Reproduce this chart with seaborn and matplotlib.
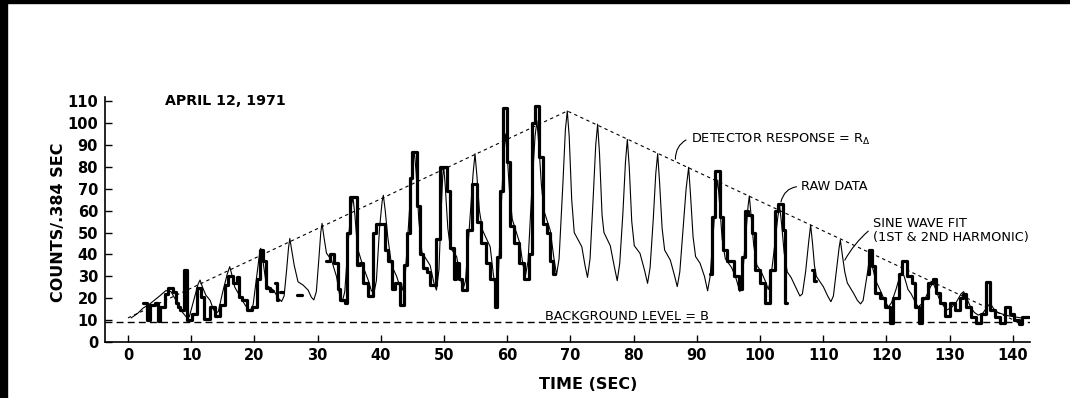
import numpy as np
import pandas as pd
import matplotlib
matplotlib.use("Agg")
import matplotlib.pyplot as plt
from matplotlib.patches import Rectangle
import seaborn as sns


# ---------------- data ----------------
background_level = 9

# detector response triangle (R_delta)
env_t = [0.0, 69.5, 140.5]
env_v = [11.0, 105.5, 9.5]

# sine wave fit (1st & 2nd harmonic), (time, counts) read point by point
fit_curve = [
    (0.5, 11), (1.5, 13), (2.4, 15.5), (3.5, 17.5), (5.0, 21), (6.0, 23.5), (6.8, 23),
    (7.6, 19), (8.5, 14), (9.2, 11.5), (9.7, 11.5), (10.5, 20), (11.1, 26.5), (11.4, 28.3),
    (11.8, 25), (12.3, 21.5), (13.0, 19), (13.5, 15), (13.9, 13), (14.3, 14), (15.0, 23),
    (15.7, 31), (16.1, 34.4), (16.5, 30), (16.9, 25), (17.7, 21), (18.5, 17), (19.0, 15),
    (19.4, 14.6), (19.8, 17), (20.4, 31), (20.8, 40), (21.0, 42.8), (21.3, 38), (21.9, 26),
    (23.0, 23.7), (23.8, 20), (24.3, 18.5), (24.7, 21), (25.1, 33), (25.4, 43), (25.6, 47.3),
    (25.9, 42), (26.3, 35), (26.9, 27.5), (27.7, 26), (28.5, 23.7), (29.0, 20.5), (29.4, 19.2),
    (29.8, 23), (30.2, 38), (30.5, 50), (30.7, 54.2), (31.0, 48), (31.4, 40.6), (32.2, 37.4),
    (33.0, 29.8), (33.5, 21), (33.9, 18.4), (34.3, 23), (34.9, 48), (35.4, 63), (35.6, 66),
    (35.9, 58), (36.3, 43), (37.2, 34.4), (38.0, 28.3), (38.5, 23.5), (38.9, 22.2), (39.3, 28),
    (39.8, 52), (40.2, 64), (40.4, 67), (40.7, 60), (41.1, 48), (41.7, 35), (42.5, 30),
    (43.0, 25.5), (43.4, 23.7), (43.9, 32), (44.6, 63), (45.1, 82), (45.3, 87), (45.6, 77),
    (46.0, 56), (46.5, 41), (47.8, 35), (48.4, 27), (48.8, 23.7), (49.2, 33), (49.5, 57),
    (49.8, 76), (49.95, 80), (50.2, 71), (50.6, 52), (51.0, 43), (52.0, 39), (52.6, 29),
    (53.0, 24), (53.4, 28), (54.0, 52), (54.6, 77), (54.9, 86), (55.2, 76), (55.6, 60),
    (56.1, 51), (57.3, 43.5), (57.8, 31), (58.2, 22.5), (58.6, 31), (59.1, 65), (59.5, 88),
    (59.7, 95), (60.0, 85), (60.4, 67), (60.8, 56), (62.0, 45), (62.5, 35), (62.9, 30.6),
    (63.3, 37), (63.9, 70), (64.4, 94), (64.7, 101), (65.0, 90), (65.4, 72), (65.8, 60),
    (66.8, 51), (67.4, 38), (67.8, 30.6), (68.2, 38), (68.8, 72), (69.2, 97), (69.5, 105.5),
    (69.8, 94), (70.2, 65), (70.6, 50), (71.8, 43.5), (72.3, 35), (72.7, 29.5), (73.1, 38),
    (73.6, 66), (74.0, 90), (74.3, 99.5), (74.6, 86), (75.0, 58), (75.3, 50), (76.3, 44),
    (76.9, 35), (77.4, 28), (77.8, 36), (78.3, 59), (78.7, 82), (79.0, 92.5), (79.3, 80),
    (79.7, 55), (80.1, 44), (81.0, 40.5), (81.7, 33), (82.2, 26.8), (82.6, 34), (83.1, 56),
    (83.5, 77), (83.8, 86), (84.1, 73), (84.5, 52), (84.9, 42), (85.8, 37.4), (86.4, 31),
    (86.9, 25.3), (87.3, 32), (87.8, 51), (88.3, 70), (88.7, 79.8), (89.0, 67), (89.4, 48),
    (89.8, 39), (90.5, 36), (91.2, 30), (91.7, 23.4), (92.1, 30), (92.6, 50), (93.0, 67),
    (93.3, 74), (93.6, 63), (94.0, 47), (94.5, 38), (95.5, 34), (96.2, 29), (96.8, 23),
    (97.2, 29), (97.7, 47), (98.1, 62), (98.3, 66.7), (98.6, 57), (99.0, 44), (99.5, 35),
    (100.2, 32), (100.8, 28), (101.3, 24), (101.7, 29), (102.3, 44), (102.8, 57), (103.1, 62),
    (103.4, 54), (103.8, 41), (104.3, 32), (104.9, 29.5), (105.8, 24), (106.3, 21), (106.7, 22),
    (107.2, 32), (107.7, 46), (108.0, 53.4), (108.3, 45), (108.6, 35), (108.9, 30), (110.0, 25.3),
    (110.7, 21), (111.2, 18.4), (111.6, 21), (112.1, 33), (112.5, 43), (112.7, 46.6), (113.0, 40),
    (113.4, 32), (113.8, 27), (114.8, 22.2), (115.4, 19), (115.9, 17.4), (116.3, 19), (116.9, 30),
    (117.3, 38), (117.5, 40), (117.8, 34), (118.3, 28), (119.0, 23.7), (119.7, 19), (120.3, 16),
    (120.8, 18), (121.5, 24), (122.1, 30), (122.5, 32.5), (122.9, 29), (123.4, 24), (123.9, 22),
    (124.5, 18.5), (125.0, 16), (125.6, 17.5), (126.3, 21), (127.0, 25.5), (127.4, 26.8),
    (127.8, 24), (128.3, 20), (128.9, 17), (129.5, 14.6), (130.2, 15.5), (131.0, 18), (131.8, 22),
    (132.2, 23), (132.6, 20.5), (133.3, 16), (133.9, 13.5), (134.5, 12.3), (135.2, 13),
    (135.8, 15.5), (136.4, 17.7), (137.0, 15), (137.6, 13.5), (138.3, 12.8), (139.2, 12),
    (140.2, 11.5), (141.3, 11), (142.7, 11),
]
fit_t = [p[0] for p in fit_curve]
fit_v = [p[1] for p in fit_curve]

# raw data (0.384 s counts), step edges and levels; last level repeated at the end edge
raw_a_t = [2.4, 3.0, 3.5, 4.3, 4.7, 5.1, 5.8, 6.4, 7.2, 7.6, 7.9, 8.2, 8.9, 9.4, 10.1,
           10.9, 11.6, 12.0, 12.9, 13.8, 14.5, 15.3, 15.9, 16.6, 17.2, 17.6, 18.0,
           18.8, 19.6, 20.4, 20.9, 21.4, 21.9, 22.5, 23.0]
raw_a_v = [18, 10, 17, 18, 9.5, 16, 22, 24.5, 23, 18, 16, 14.5, 33, 10, 12.8,
           24.5, 20.7, 10.6, 16, 12, 17, 26, 30, 27, 29.7, 20.7, 19,
           14.6, 16, 29, 42, 37, 24.5, 23.5, 23.5]

raw_b_t = [23.3, 23.5, 23.7]
raw_b_v = [27, 19, 19]

raw_c_t = [24.0, 24.6]
raw_c_v = [23, 23]

raw_d_t = [26.8, 27.6]
raw_d_v = [21.5, 21.5]

raw_e_t = [31.4, 32.0, 32.6, 33.3, 33.6, 34.3, 34.6, 35.2, 36.2, 36.7, 37.2, 38.0, 38.8,
           39.3, 40.6, 41.2, 41.8, 42.2, 43.0, 43.6, 44.1, 44.6, 45.0, 45.8, 46.2,
           46.7, 47.3, 47.8, 48.8, 49.4, 50.4, 51.0, 51.6, 51.9, 52.4, 52.9, 53.6,
           54.4, 55.2, 55.9, 56.7, 57.3, 58.0, 58.4, 58.9, 59.4, 59.9, 60.4, 61.0,
           61.8, 62.6, 63.4, 63.9, 64.4, 65.1, 65.7, 66.3, 66.8, 67.2, 67.6]
raw_e_v = [37, 40, 36, 24, 19, 18, 50, 66, 35, 36, 27, 21, 50,
           54, 42, 37, 24, 27, 17, 35, 50, 75, 87, 62, 40,
           34, 32, 26, 47, 80, 69, 43, 29, 36, 29, 23.7, 51,
           72, 55, 45, 36, 29, 16, 39, 69, 107, 82, 53, 45,
           36, 29, 40, 100, 108, 84.6, 54, 50, 37, 31, 31]

raw_f_t = [92.1, 92.4, 92.9, 93.6, 94.2, 94.7, 95.8, 96.6, 97.1, 97.6, 98.1, 98.7, 99.2,
           100.0, 100.8, 101.6, 102.4, 102.9, 103.6, 104.0, 104.2]
raw_f_v = [31, 57, 78, 57, 42, 37, 30, 24, 39, 60, 58, 49.6, 33,
           27, 18, 33, 60, 63, 51, 18, 18]

raw_g_t = [108.2, 108.5, 108.8]
raw_g_v = [33, 28, 28]

raw_h_t = [117.0, 117.3, 117.7, 118.2, 119.0, 119.8, 120.6, 121.1, 121.9, 122.4, 123.2,
           124.0, 124.5, 125.2, 125.6, 126.6, 127.4, 127.8, 128.5, 129.3, 130.1,
           130.8, 131.6, 132.1, 132.6, 133.4, 134.2, 134.9, 135.8, 136.4, 137.1,
           137.9, 138.7, 139.5, 140.2, 141.0, 141.5, 142.5]
raw_h_v = [31, 42, 34.5, 22.5, 20, 16, 8.5, 20, 31, 37, 30,
           26.8, 16, 8.5, 20, 27, 29, 22.5, 18, 12, 18,
           14.6, 20, 22, 16, 11.6, 8.5, 13, 27.6, 14.6, 11.6,
           8.5, 16, 13, 10, 8, 11.6, 11.6]

raw_segments = [(raw_a_t, raw_a_v), (raw_b_t, raw_b_v), (raw_c_t, raw_c_v),
                (raw_d_t, raw_d_v), (raw_e_t, raw_e_v), (raw_f_t, raw_f_v),
                (raw_g_t, raw_g_v), (raw_h_t, raw_h_v)]

x_ticks = list(range(0, 141, 10))
y_ticks = list(range(0, 111, 10))


# ---------------- drawing ----------------
sns.set_style("ticks")
plt.rcParams['font.family'] = ['DejaVu Sans']
plt.rcParams['text.color'] = 'black'
plt.rcParams['axes.labelcolor'] = 'black'
plt.rcParams['xtick.color'] = 'black'
plt.rcParams['ytick.color'] = 'black'

fig = plt.figure(figsize=(10.7, 3.98), dpi=100)
ax = fig.add_axes([0.0981, 0.1407, 0.8645, 0.6156])

# background level
ax.axhline(background_level, color="black", lw=1.0, ls=(0, (5, 3)), zorder=1)

# detector response envelope
sns.lineplot(x=env_t, y=env_v, ax=ax, color="black", lw=0.8,
             linestyle=(0, (3, 3)), estimator=None, sort=False)

# sine wave fit
sns.lineplot(x=fit_t, y=fit_v, ax=ax, color="black", lw=0.8,
             estimator=None, sort=False)

# raw data
for seg_t, seg_v in raw_segments:
    df = pd.DataFrame({"t": seg_t, "v": seg_v})
    sns.lineplot(data=df, x="t", y="v", ax=ax, color="black", lw=2.3,
                 drawstyle="steps-post", estimator=None, sort=False)

ax.set_xlim(-3.64, 142.7)
ax.set_ylim(0, 111.9)
sns.despine(ax=ax)
for side in ["left", "bottom"]:
    ax.spines[side].set_linewidth(1.2)
    ax.spines[side].set_color("black")

ax.set_xticks(x_ticks, [str(v) for v in x_ticks], fontweight="bold")
ax.set_yticks(y_ticks, [str(v) for v in y_ticks], fontweight="bold")
ax.tick_params(axis="both", direction="in", length=5, width=1, labelsize=10.5,
               colors="black")
ax.tick_params(axis="x", pad=4)
ax.tick_params(axis="y", pad=5)

ax.set_xlabel("TIME (SEC)", fontsize=11.5, fontweight="bold")
ax.set_ylabel("COUNTS/.384 SEC", fontsize=11.5, fontweight="bold")
ax.xaxis.set_label_coords(0.522, -0.143)
ax.yaxis.set_label_coords(-0.042, 0.49)

ax.text(5.9, 110, "APRIL 12, 1971", fontsize=10.2, fontweight="bold",
        ha="left", va="center")

lead = dict(arrowstyle="-", lw=0.8, color="black", shrinkA=1, shrinkB=0)
note_size = 9.3

ax.annotate("DETECTOR RESPONSE = R$_{\\Delta}$", xy=(86.6, 83.5), xytext=(89.0, 92.5),
            fontsize=note_size, ha="left", va="center",
            arrowprops=dict(lead, relpos=(0, 0.6), connectionstyle="arc3,rad=0.35"))

ax.annotate("RAW DATA", xy=(103.3, 64), xytext=(106.5, 71),
            fontsize=note_size, ha="left", va="center",
            arrowprops=dict(lead, relpos=(0, 0.5), connectionstyle="arc3,rad=0.4"))

ax.annotate("SINE WAVE FIT\n(1ST & 2ND HARMONIC)", xy=(113.4, 37.4), xytext=(117.8, 50.8),
            fontsize=note_size, ha="left", va="center", linespacing=1.1,
            arrowprops=dict(lead, relpos=(0, 0.62), connectionstyle="arc3,rad=0.1"))

ax.text(66, 11.8, "BACKGROUND LEVEL = B", fontsize=note_size, ha="left", va="center")

# black scan edges
fig.patches.append(Rectangle((0, 1 - 3 / 398), 1, 3 / 398, transform=fig.transFigure,
                             color="black", zorder=10))
fig.patches.append(Rectangle((0, 0), 7 / 1070, 1, transform=fig.transFigure,
                             color="black", zorder=10))

fig.savefig("out.png", dpi=100)
